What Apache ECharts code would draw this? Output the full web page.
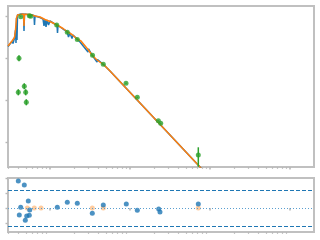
<!DOCTYPE html>
<html><head><meta charset="utf-8">
<script src="https://cdn.jsdelivr.net/npm/echarts@6/dist/echarts.min.js"></script>
<style>html,body{margin:0;padding:0;background:#fff}#c{width:320px;height:240px}</style>
</head><body><div id="c"></div>
<script>
// High-resolution model spectrum (blue)
const specWave = [0.2985,0.3162,0.3350,0.3447,0.3599,0.3704,0.3758,0.3813,0.3868,0.3924,0.4097,0.4341,0.4664,0.4732,0.4801,0.5309,0.5957,0.6310,0.6401,0.6494,0.7499,0.8175,0.8414,0.8660,0.8913,0.9173,0.9578,1.0,1.122,1.2232,1.2411,1.2589,1.4537,1.6312,1.7032,1.7783,1.8836,1.9392,2.1752,2.3714,2.4406,2.9854,3.0289,3.3497,3.8681,3.9243,4.7315,5.6234,74.99,421.7];
const specFlux = [0.1878,0.2154,0.2471,0.2214,0.2994,0.4642,0.2276,0.8960,0.2683,1.0564,1.0857,1.1158,1.1158,0.4394,1.1158,1.0857,1.0564,1.0278,0.6105,1.0,0.9211,0.8483,0.5779,0.8254,0.5470,0.8031,0.6105,0.7603,0.6628,0.6105,0.3937,0.5940,0.4901,0.4275,0.3162,0.3937,0.2912,0.3528,0.2834,0.2404,0.2610,0.1389,0.1638,0.1179,0.0803,0.0921,0.0681,0.0490,2.539e-4,7.6e-6];
// Smoothed model (orange)
const modelWave = [0.2985,0.3350,0.3599,0.3704,0.3813,0.3924,0.4097,0.4664,0.4732,0.4801,0.5623,0.6494,0.7499,0.8660,1.0,1.2232,1.4537,1.6312,1.8836,2.1752,2.4406,2.9854,3.3497,3.8681,4.7315,5.6234,74.99,421.7];
const modelFlux = [0.1931,0.2540,0.3077,0.4642,0.8960,1.0564,1.1158,1.1158,0.5779,1.104,1.0857,1.0,0.9467,0.8254,0.7397,0.6105,0.5039,0.4275,0.3627,0.2834,0.2540,0.1593,0.1179,0.0896,0.0681,0.0490,2.539e-4,7.6e-6];
// Photometry (green)
const photWave = [0.4302,0.5511,0.5738,1.2127,1.6453,2.1940,3.3982,4.6371,8.9125,12.34,22.59,24.20,71.41,0.4097,0.4015,0.4967,0.4771,0.5055];
const photFlux = [0.9624,1.0166,0.9837,0.6105,0.4091,0.2758,0.1160,0.0708,0.02497,0.01160,0.003215,0.002787,4.904e-4,0.0984,0.01525,0.01525,0.02119,0.00881];
const photErrLo = [0.94,0.99,0.96,0.595,0.399,0.269,0.113,0.069,0.0243,0.0113,0.00313,0.00272,2.582e-4,0.0834,0.0129,0.0129,0.0180,0.00747];
const photErrHi = [0.985,1.04,1.01,0.625,0.419,0.283,0.119,0.0725,0.0256,0.0119,0.00329,0.00286,7.48e-4,0.116,0.0180,0.0180,0.0250,0.0104];
// Residuals (blue) and model residuals (orange)
const resWave = [0.4015,0.4771,0.4302,0.5354,0.4132,0.5575,0.5114,0.5511,0.4911,1.2338,1.6453,2.1940,3.3787,4.6371,8.990,12.34,22.85,23.71,71.41];
const resVal = [1.80,1.53,0.05,0.47,-0.47,-0.13,-0.53,-0.49,-0.82,0.05,0.38,0.31,-0.35,0.20,0.27,-0.15,-0.07,-0.27,0.27];
const modResWave = [0.5203,0.6364,0.7722,3.3787,4.6371,71.41];
const modResVal = [0,0,0,0,0,0];
const resBand = [1.2,-1.2];
// Ticks
const xMajor = [1,10,100,1000];
const xMinor = [0.3,0.4,0.5,0.6,0.7,0.8,0.9,2,3,4,5,6,7,8,9,20,30,40,50,60,70,80,90,200,300,400,500,600,700,800,900];
const yMajor = [0.001,0.01,0.1,1];
const resTicks = [-1,0,1,2];

const X_MIN = 0.2985, X_MAX = 1995;
const gridStyle = {show:true, borderColor:'#c0c0c0', borderWidth:2, backgroundColor:'transparent'};
const tickColor = '#b8b8b8';
function xAxes(gi){
  return [
    {type:'log', gridIndex:gi, min:X_MIN, max:X_MAX, position:'bottom',
     axisLine:{show:false}, splitLine:{show:false}, axisLabel:{show:false},
     axisTick:{show:true, length:2.5, customValues:xMajor, lineStyle:{color:tickColor, width:1.6}}},
    {type:'log', gridIndex:gi, min:X_MIN, max:X_MAX, position:'bottom',
     axisLine:{show:false}, splitLine:{show:false}, axisLabel:{show:false},
     axisTick:{show:true, length:1.8, customValues:xMinor, lineStyle:{color:tickColor, width:1.2}}}
  ];
}
const chart = echarts.init(document.getElementById('c'), null, {renderer:'canvas'});
chart.setOption({
  animation:false,
  backgroundColor:'#fff',
  grid:[
    Object.assign({left:8, right:6, top:6, height:161}, gridStyle),
    Object.assign({left:8, right:6, top:178, height:54}, gridStyle)
  ],
  xAxis:[...xAxes(0), ...xAxes(1)],
  yAxis:[
    {type:'log', gridIndex:0, min:2.539e-4, max:1.730,
     axisLine:{show:false}, splitLine:{show:false}, axisLabel:{show:false},
     axisTick:{show:true, length:2.5, customValues:yMajor, lineStyle:{color:tickColor, width:1.4}}},
    {type:'value', gridIndex:1, min:-1.6, max:2,
     axisLine:{show:false}, splitLine:{show:false}, axisLabel:{show:false},
     axisTick:{show:true, length:2.5, customValues:resTicks, lineStyle:{color:tickColor, width:1.4}}}
  ],
  series:[
    {type:'line', xAxisIndex:0, yAxisIndex:0, data:specWave.map((w,i)=>[w,specFlux[i]]),
     showSymbol:false, symbol:'none', lineStyle:{color:'#1f77b4', width:1.5}, z:2, silent:true},
    {type:'line', xAxisIndex:0, yAxisIndex:0, data:modelWave.map((w,i)=>[w,modelFlux[i]]),
     showSymbol:false, symbol:'none', lineStyle:{color:'#ff7f0e', width:1.5}, z:3, silent:true},
    {type:'custom', xAxisIndex:0, yAxisIndex:0, z:4, silent:true,
     data:photWave.map((w,i)=>[w,photErrLo[i],photErrHi[i]]),
     encode:{x:0, y:[1,2]},
     renderItem:function(params, api){
       const a = api.coord([api.value(0), api.value(1)]);
       const b = api.coord([api.value(0), api.value(2)]);
       return {type:'line', shape:{x1:a[0],y1:a[1],x2:b[0],y2:b[1]}, style:{stroke:'#2ca02c', lineWidth:1.5}};
     }},
    {type:'scatter', xAxisIndex:0, yAxisIndex:0, data:photWave.map((w,i)=>[w,photFlux[i]]),
     symbol:'circle', symbolSize:5, itemStyle:{color:'#2ca02c'}, z:5, silent:true},
    {type:'scatter', xAxisIndex:2, yAxisIndex:1, data:modResWave.map((w,i)=>[w,modResVal[i]]),
     symbol:'circle', symbolSize:5, itemStyle:{color:'#ff7f0e', opacity:0.4}, z:2, silent:true,
     markLine:{silent:true, symbol:'none', label:{show:false},
       lineStyle:{color:'#1f77b4', width:1},
       data:[
         {yAxis:resBand[0], lineStyle:{type:[4,2], color:'#1f77b4', width:1.2}},
         {yAxis:resBand[1], lineStyle:{type:[4,2], color:'#1f77b4', width:1.2}},
         {yAxis:0, lineStyle:{type:[1,2], color:'#5a9fd0', width:1.2}}
       ]}},
    {type:'scatter', xAxisIndex:2, yAxisIndex:1, data:resWave.map((w,i)=>[w,resVal[i]]),
     symbol:'circle', symbolSize:5, itemStyle:{color:'#1f77b4'}, z:4, silent:true}
  ]
});
</script></body></html>
